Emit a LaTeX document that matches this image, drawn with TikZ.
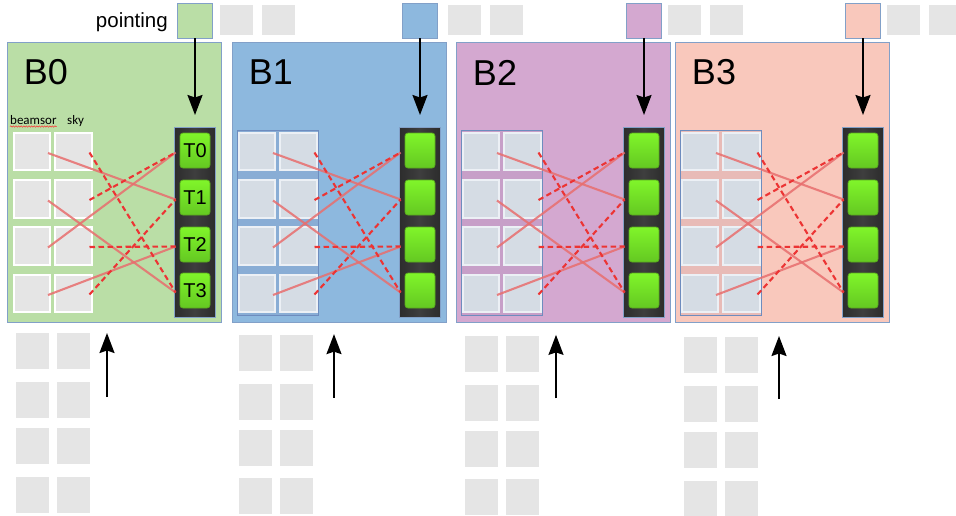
\documentclass[tikz,border=0pt]{standalone}
\usepackage{fontspec}
\setmainfont{Liberation Sans}
\newfontfamily\smallfont{Carlito}
\usetikzlibrary{arrows.meta,decorations.pathmorphing}
\definecolor{cB0}{RGB}{186,222,166}
\definecolor{cB1}{RGB}{141,184,222}
\definecolor{cB2}{RGB}{212,168,208}
\definecolor{cB3}{RGB}{249,200,188}
\definecolor{bordc}{RGB}{130,160,200}
\definecolor{graysq}{RGB}{229,229,229}
\definecolor{olsq}{RGB}{213,220,228}
\definecolor{olsqb}{RGB}{236,240,245}
\definecolor{olbord}{RGB}{110,140,190}
\definecolor{tdark}{RGB}{44,44,44}
\definecolor{tmid}{RGB}{62,62,62}
\definecolor{gtop}{RGB}{128,245,42}
\definecolor{gbot}{RGB}{100,200,34}
\definecolor{gbord}{RGB}{90,170,30}
\definecolor{linered}{RGB}{232,110,110}
\definecolor{dashred}{RGB}{236,52,52}
\begin{document}
\begin{tikzpicture}[x=1pt,y=-1pt,
  panel/.style={draw=bordc, line width=1pt, minimum width=214pt, minimum height=280pt, inner sep=0pt},
  psq/.style={draw=bordc, line width=0.9pt, minimum width=35pt, minimum height=35pt, inner sep=0pt},
  topgray/.style={fill=graysq, minimum width=33pt, minimum height=30pt, inner sep=0pt},
  gsqplain/.style={fill=graysq, draw=white, line width=1.6pt, minimum width=36.5pt, minimum height=37.5pt, inner sep=0pt},
  gsqol/.style={fill=olsq, draw=olsqb, line width=1.6pt, minimum width=36.5pt, minimum height=37.5pt, inner sep=0pt},
  overlay/.style={draw=olbord, line width=0.8pt, fill={rgb,255:red,110;green,100;blue,150}, fill opacity=0.12, minimum width=81pt, minimum height=185pt, inner sep=0pt},
  lowsq/.style={fill=graysq, minimum width=33pt, minimum height=36pt, inner sep=0pt},
  tcol/.style={draw=bordc, line width=0.8pt, left color=tdark, right color=tdark, middle color=tmid, minimum width=41pt, minimum height=190pt, inner sep=0pt},
  tgreen/.style={draw=gbord, line width=0.8pt, rounded corners=3pt, top color=gtop, bottom color=gbot, minimum width=30pt, minimum height=35pt, inner sep=0pt, font=\fontsize{20}{24}\selectfont},
  blabel/.style={font=\fontsize{36}{40}\selectfont, inner sep=0pt},
  solidl/.style={draw=linered, line width=2.1pt, draw opacity=0.85},
  dashl/.style={draw=dashred, line width=2.1pt, dash pattern=on 5.5pt off 3.5pt},
  arr/.style={-{Stealth[length=20pt,width=15pt,inset=2.5pt]}, line width=1.8pt, draw=black}
]
\useasboundingbox (0,0) rectangle (956,515);
\clip (0,0) rectangle (956,515);

\node[anchor=base east, inner sep=0pt, font=\fontsize{20.5}{24}\selectfont] (ptxt) at (168,27.5) {pointing};

\foreach \i/\dx/\col/\lab/\ga/\gb/\dy/\ax/\lx in {0/0/cB0/B0/41/83/0/107/0, 1/225/cB1/B1/44/86/1.5/334/223, 2/449/cB2/B2/40/82/2.5/556/449, 3/668/cB3/B3/40.5/82.5/4/779/668} {
  % top row
  \node[psq, fill=\col] (p\i) at (195+\dx,20.5) {};
  \node[topgray] (pg\i-1) at (195+\dx+\ga,20) {};
  \node[topgray] (pg\i-2) at (195+\dx+\gb,20) {};
  % panel
  \node[panel, fill=\col] (box\i) at (114+\dx,182) {};
  \node[blabel] (lab\i) at (46+\dx,72.5) {\lab};
  % grid
  \ifnum\i=0 \tikzset{cursq/.style={gsqplain}}\else
    \tikzset{cursq/.style={gsqol}}
    \node[overlay] (ol\i) at (52.5+\dx,222.5) {};
  \fi
  \foreach \r/\yy in {1/151.5,2/199,3/246,4/293.5} {
    \node[cursq] (c\i-1-\r) at (32+\dx,\yy) {};
    \node[cursq] (c\i-2-\r) at (73.5+\dx,\yy) {};
  }
  % T column
  \node[tcol] (tc\i) at (194.5+\dx,222) {};
  \foreach \k/\yy in {0/150.5,1/197.5,2/244.5,3/290.5} {
    \node[tgreen] (t\i-\k) at (195+\dx,\yy) {\ifnum\i=0 T\k\fi};
  }
  % connections
  \foreach \r/\k in {1/1,2/3,3/0,4/2} {
    \draw[solidl] ([xshift=16pt,yshift=-1.5pt]c\i-1-\r.center) -- ([xshift=-4pt,yshift=-2pt]t\i-\k.west);
  }
  \foreach \r/\k in {1/3,2/0,3/2,4/1} {
    \draw[dashl] ([xshift=16pt,yshift=-1pt]c\i-2-\r.center) -- ([xshift=-4pt,yshift=-2pt]t\i-\k.west);
  }
  % top arrow
  \coordinate (ta\i) at (195+\dx,115);
  \draw[arr] (p\i.south) -- (ta\i);
  % lower squares
  \foreach \r/\yy in {1/351,2/400,3/446,4/494.5} {
    \node[lowsq] (l\i-1-\r) at (32+\lx,\yy+\dy) {};
    \node[lowsq] (l\i-2-\r) at (73.5+\lx,\yy+\dy) {};
  }
  % bottom arrow
  \coordinate (bs\i) at (\ax,397+0.5*\dy);
  \coordinate (be\i) at (\ax,333+0.75*\dy);
  \draw[arr] (bs\i) -- (be\i);
}

% column captions in B0
\node[anchor=base west, inner sep=0pt, font=\smallfont\fontsize{13}{15}\selectfont] (cap1) at (10,124.5) {beamsor};
\node[anchor=base west, inner sep=0pt, font=\smallfont\fontsize{13}{15}\selectfont] (cap2) at (67,124.5) {sky};
\draw[red!80, line width=0.5pt, decorate, decoration={snake, amplitude=0.7pt, segment length=2.6pt}] ([yshift=-2pt]cap1.base west) -- ([yshift=-2pt]cap1.base east);
\end{tikzpicture}
\end{document}
